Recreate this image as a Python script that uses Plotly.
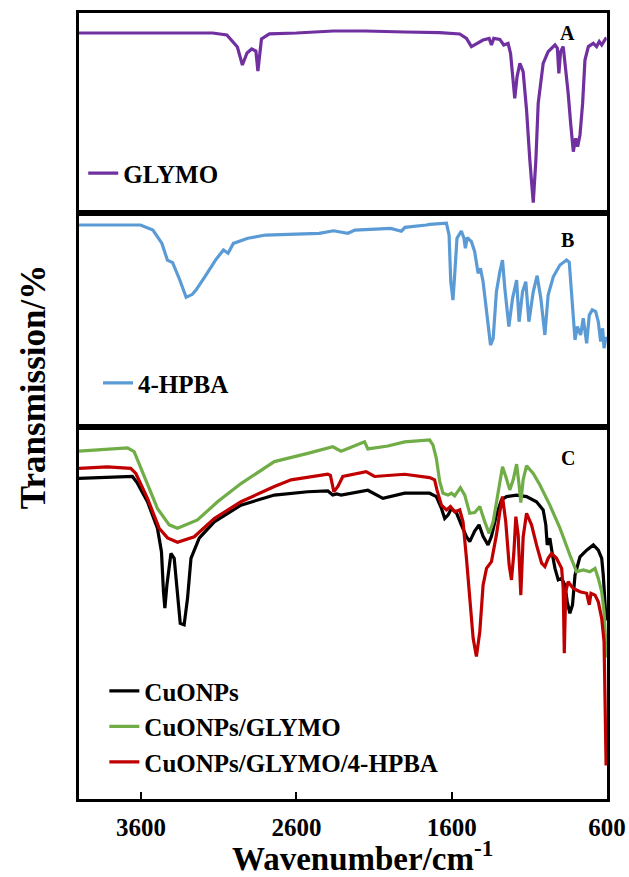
import plotly.graph_objects as go
from plotly.subplots import make_subplots

# ---------- Panel A: GLYMO ----------
glymo_wn = [4000, 3600, 3140, 3048, 2980, 2948, 2918, 2888, 2861, 2848, 2825, 2774, 2600, 2362, 2156,
            1900, 1677, 1548, 1505, 1473, 1441, 1398, 1359, 1344, 1329, 1290, 1265, 1237, 1221, 1208,
            1194, 1179, 1161, 1140, 1118, 1097, 1075, 1058, 1043, 1011, 979, 935, 920, 910, 899, 882,
            865, 850, 834, 817, 802, 789, 774, 757, 742, 720, 688, 667, 650, 634, 608, 603]
glymo_t = [90, 90, 90, 89, 83, 74, 80, 82, 81, 71, 87, 89.6, 90, 91, 91,
           90.5, 90.2, 89.5, 87.3, 83.2, 84.8, 86.5, 87.3, 84, 87.3, 86.8, 84, 84.8, 79.8, 68.2,
           57.3, 68.2, 74.8, 70.7, 51.5, 26.5, 5.2, 26.5, 54.8, 74.8, 80.7, 84, 82.5, 69.8, 80.7, 83.2,
           71.5, 59.8, 44.8, 30.7, 37.3, 33.2, 39, 54.8, 76.5, 83.2, 84.8, 83.2, 85.7, 84, 87.3, 87.4]

# ---------- Panel B: 4-HPBA ----------
hpba_wn = [4000, 3604, 3524, 3466, 3431, 3397, 3351, 3310, 3270, 3247, 3190, 3121, 3070, 3040, 3006,
           2913, 2798, 2453, 2361, 2269, 2223, 1993, 1924, 1901, 1763, 1742, 1634, 1617, 1606, 1592,
           1581, 1566, 1538, 1521, 1512, 1500, 1473, 1452, 1430, 1415, 1398, 1372, 1350, 1333, 1312,
           1290, 1273, 1258, 1232, 1208, 1182, 1166, 1144, 1123, 1103, 1075, 1050, 1026, 1000, 979,
           946, 903, 860, 843, 828, 817, 806, 791, 770, 753, 731, 714, 695, 673, 656, 641, 628, 619, 606]
hpba_t = [94.4, 94.4, 92, 85.8, 78, 76.8, 68.7, 60.6, 62, 64, 70.2, 78, 82.7, 81.2, 85.8,
          88.2, 89.7, 90.5, 91.7, 90.5, 92, 92.8, 91.5, 93.3, 94.4, 94.7, 95.2, 89.7, 67.9, 59.3,
          71, 88.2, 91.6, 88.2, 83.5, 88.5, 86.6, 81.9, 71.8, 74.1, 67.9, 52.3, 38.3, 41.4, 63.2,
          72.6, 78, 64.8, 46.9, 60.1, 68.7, 49.2, 63.2, 67.9, 49.2, 63.2, 70.7, 60.1, 43, 61.7,
          70.2, 75.7, 78, 77, 60.1, 47.7, 40.7, 46.9, 43, 50.8, 39.1, 52.3, 54.7, 53.9, 49.2, 39.9, 46.1, 36.8, 42.2]

# ---------- Panel C ----------
cu_wn = [4000, 3817, 3656, 3624, 3559, 3495, 3469, 3456, 3447, 3434, 3408, 3387, 3366, 3348, 3323,
         3301, 3279, 3226, 3129, 2957, 2742, 2527, 2398, 2366, 2340, 2312, 2140, 2043, 1903, 1742,
         1699, 1666, 1645, 1624, 1602, 1570, 1538, 1505, 1484, 1452, 1424, 1398, 1366, 1344, 1312,
         1280, 1247, 1182, 1118, 1054, 1011, 994, 985, 968, 951, 935, 914, 892, 871, 856, 839, 822,
         806, 774, 731, 688, 656, 634, 624, 613, 606]
cu_t = [86.2, 86.4, 86.7, 84.9, 79.9, 72.8, 66.5, 55.7, 51.3, 57.5, 66, 64.7, 54, 47.2, 46.8,
        54, 64.7, 70.1, 74.5, 79, 81.7, 82.6, 82.8, 81.7, 82, 81.7, 83, 80.8, 82.2, 82.2,
        81.3, 78.1, 75.4, 76.3, 78.1, 77, 73.7, 70.5, 69.2, 72, 73.7, 70.6, 68.3, 70.6, 76.3,
        80.4, 81.3, 81.7, 81.3, 79.9, 77.7, 73.7, 68.3, 70.1, 65.6, 62, 58.9, 59.3, 57.5, 53, 49.9, 52.2,
        60.2, 65.1, 66.9, 68.3, 66.9, 64.7, 60.2, 50.4, 48]

gl_wn = [4000, 3817, 3688, 3645, 3581, 3495, 3419, 3366, 3237, 3108, 2957, 2742, 2527, 2366, 2312,
         2161, 2140, 2011, 1903, 1742, 1721, 1699, 1677, 1656, 1624, 1602, 1581, 1544, 1516, 1484,
         1452, 1419, 1387, 1359, 1333, 1301, 1273, 1252, 1226, 1204, 1182, 1166, 1155, 1140, 1118,
         1075, 1032, 968, 903, 839, 796, 753, 710, 677, 656, 634, 619, 608, 604]
gl_t = [93.5, 94.1, 94.4, 93.4, 87.1, 78.1, 73.7, 72.8, 75, 79.9, 84.8, 90.7, 92.9, 94.7, 93.5,
        96, 94.1, 94.9, 96, 96.5, 95.2, 91.6, 85.3, 82.2, 81.7, 82.2, 81.5, 83.7, 81.7, 76.8,
        77, 78.6, 74.5, 71.4, 74.5, 82.6, 89.3, 86.7, 83.1, 85.8, 90, 84.4, 79.7, 85.8, 89.6,
        87.5, 84.4, 79, 72.8, 65.6, 61.1, 61.6, 61.1, 62, 59.3, 55.7, 50.4, 42.3, 38]

hb_wn = [4000, 3817, 3667, 3634, 3559, 3484, 3430, 3366, 3258, 3129, 2957, 2742, 2634, 2398, 2381,
         2359, 2333, 2301, 2151, 2097, 1903, 1742, 1710, 1695, 1666, 1634, 1608, 1581, 1548, 1527,
         1505, 1484, 1462, 1441, 1419, 1398, 1376, 1344, 1312, 1290, 1273, 1252, 1230, 1215, 1200,
         1187, 1172, 1155, 1140, 1118, 1086, 1054, 1021, 1000, 979, 957, 925, 892, 882, 875, 866,
         850, 817, 774, 731, 714, 703, 677, 656, 634, 619, 612, 606]
hb_t = [88.9, 89.3, 88.9, 87.5, 80.8, 72.8, 70.2, 69, 70.5, 75.4, 79.9, 84, 85.8, 87.3, 87,
        82.6, 84, 86.7, 88, 86.7, 87.3, 86.4, 85.8, 83.1, 79, 77.7, 78.6, 77.2, 77.7, 74.5,
        64.7, 54, 43.2, 38.3, 45, 57.5, 62, 63.8, 71, 77.2, 81.3, 74.5, 62.9, 58.9, 66,
        75.9, 71, 54.8, 70.4, 76.8, 73.7, 68.3, 63.4, 62.5, 64.7, 66, 64.7, 62, 56.6, 39.2, 55.7,
        58.4, 56.6, 55.7, 55.3, 52.2, 55.3, 54.8, 53, 48.5, 42.3, 25, 9]

x_ticks = [3600, 2600, 1600, 600]
x_range = [4000, 600]

FONT = "Liberation Serif"

fig = make_subplots(rows=3, cols=1, shared_xaxes=True, vertical_spacing=0,
                    row_heights=[200, 214, 372])

fig.add_trace(go.Scatter(x=glymo_wn, y=glymo_t, mode="lines", name="<b>GLYMO</b>",
                         line=dict(color="#7030A0", width=3.2), legend="legend",
                         showlegend=True), row=1, col=1)
fig.add_trace(go.Scatter(x=hpba_wn, y=hpba_t, mode="lines", name="<b>4-HPBA</b>",
                         line=dict(color="#5B9BD5", width=3.2), legend="legend2",
                         showlegend=True), row=2, col=1)
fig.add_trace(go.Scatter(x=cu_wn, y=cu_t, mode="lines", name="<b>CuONPs</b>",
                         line=dict(color="#000000", width=3.2), legend="legend3"), row=3, col=1)
fig.add_trace(go.Scatter(x=gl_wn, y=gl_t, mode="lines", name="<b>CuONPs/GLYMO</b>",
                         line=dict(color="#70AD47", width=3.2), legend="legend3"), row=3, col=1)
fig.add_trace(go.Scatter(x=hb_wn, y=hb_t, mode="lines", name="<b>CuONPs/GLYMO/4-HPBA</b>",
                         line=dict(color="#C00000", width=3.2), legend="legend3"), row=3, col=1)

axis_common = dict(showline=True, mirror=True, linewidth=3, linecolor="black",
                   showgrid=False, zeroline=False, automargin=False)
for r in (1, 2, 3):
    fig.update_xaxes(range=x_range, row=r, col=1, **axis_common)
    fig.update_yaxes(range=[0, 100], showticklabels=False, ticks="", row=r, col=1, **axis_common)
fig.update_xaxes(showticklabels=False, ticks="", row=1, col=1)
fig.update_xaxes(showticklabels=False, ticks="", row=2, col=1)
fig.update_xaxes(tickvals=x_ticks, ticktext=[f"<b>{v}</b>" for v in x_ticks],
                 ticks="inside", ticklen=7, tickwidth=2, tickcolor="black",
                 ticklabelstandoff=4,
                 tickfont=dict(family=FONT, size=25, color="black"), showticklabels=True,
                 row=3, col=1)

leg_common = dict(bgcolor="rgba(0,0,0,0)", font=dict(family=FONT, size=25, color="black"),
                  xanchor="left", yanchor="middle", itemclick=False, visible=True)
fig.update_layout(
    width=629, height=877,
    margin=dict(l=79, r=22, t=13, b=78, autoexpand=False),
    paper_bgcolor="white", plot_bgcolor="white",
    showlegend=True,
    legend=dict(x=0.008, y=0.796, **leg_common),
    legend2=dict(x=0.036, y=0.529, **leg_common),
    legend3=dict(x=0.048, y=0.092, tracegroupgap=0, **leg_common),
)

ann_font = dict(family=FONT, color="black")
for lab, yy in (("A", 0.9746), ("B", 0.7112), ("C", 0.4338)):
    fig.add_annotation(text=f"<b>{lab}</b>", x=0.926, y=yy, xref="paper", yref="paper",
                       xanchor="center", yanchor="middle",
                       showarrow=False, font=dict(size=20, **ann_font))
fig.add_annotation(text="<b>Transmission/%</b>", x=-0.087, y=0.524, xref="paper", yref="paper",
                   xanchor="center", yanchor="middle",
                   showarrow=False, textangle=-90, font=dict(size=35, **ann_font))
fig.add_annotation(text="<b>Wavenumber/cm<sup>-1</sup></b>", x=0.536, y=-0.0725,
                   xref="paper", yref="paper", showarrow=False,
                   xanchor="center", yanchor="middle",
                   font=dict(size=33, **ann_font))

fig.write_html("out.html")
